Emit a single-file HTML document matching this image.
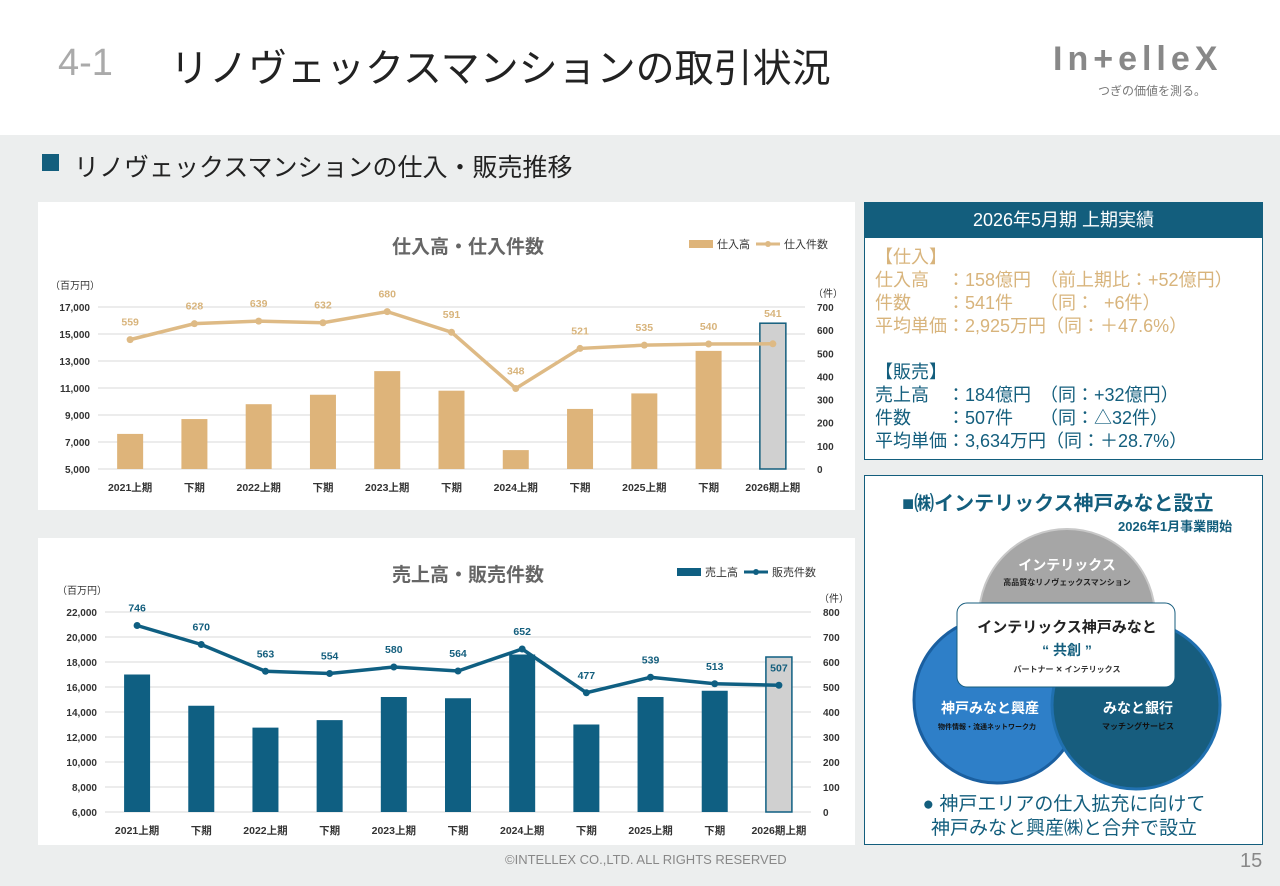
<!DOCTYPE html>
<html><head><meta charset="utf-8"><style>
body{margin:0;width:1280px;height:886px;background:#eceeee;font-family:"Liberation Sans","Noto Sans CJK JP",sans-serif;position:relative;overflow:hidden}
.abs{position:absolute}
#hdr{left:0;top:0;width:1280px;height:135px;background:#fff}
.panel{background:#fff}
.rt{font-size:18px;line-height:23px;white-space:pre}
</style></head><body>
<div id="hdr" class="abs"></div>
<div class="abs" style="left:58px;top:42px;font-size:38px;color:#aaa">4-1</div>
<div class="abs" style="left:170px;top:38px;font-size:39px;color:#222">リノヴェックスマンションの取引状況</div>
<div class="abs" style="left:1053px;top:40px;font-size:34px;font-weight:bold;color:#888;letter-spacing:5px">In+elleX</div>
<div class="abs" style="left:1098px;top:82px;font-size:12px;color:#777">つぎの価値を測る。</div>
<div class="abs" style="left:42px;top:154px;width:17px;height:17px;background:#135e7d"></div>
<div class="abs" style="left:74px;top:148px;font-size:25px;color:#222">リノヴェックスマンションの仕入・販売推移</div>

<div class="abs panel" style="left:38px;top:202px;width:817px;height:308px"></div>
<div class="abs panel" style="left:38px;top:538px;width:817px;height:307px"></div>
<svg id="ch" class="abs" style="left:0;top:0" width="1280" height="886" font-family="Liberation Sans, Noto Sans CJK JP, sans-serif"></svg>

<div class="abs" style="left:864px;top:202px;width:399px;height:258px;background:#fff;border:1px solid #135e7d;box-sizing:border-box"></div>
<div class="abs" style="left:864px;top:202px;width:399px;height:36px;background:#135e7d;color:#fff;font-size:18px;text-align:center;line-height:36px">2026年5月期 上期実績</div>
<div class="abs rt" style="left:875px;top:246px;color:#d8b47c">【仕入】
仕入高　：158億円　（前上期比：+52億円）
件数　　：541件　　（同：  +6件）
平均単価：2,925万円（同：＋47.6%）</div>
<div class="abs rt" style="left:875px;top:361px;color:#135e7d">【販売】
売上高　：184億円　（同：+32億円）
件数　　：507件　　（同：△32件）
平均単価：3,634万円（同：＋28.7%）</div>

<div class="abs" style="left:864px;top:475px;width:399px;height:370px;background:#fff;border:1px solid #135e7d;box-sizing:border-box"></div>
<div class="abs" style="left:902px;top:487px;font-size:20px;font-weight:bold;color:#135e7d">■㈱インテリックス神戸みなと設立</div>
<div class="abs" style="left:1118px;top:516px;font-size:13px;font-weight:bold;color:#135e7d">2026年1月事業開始</div>
<svg class="abs" style="left:864px;top:475px" width="399" height="370" font-family="Liberation Sans, Noto Sans CJK JP, sans-serif" font-weight="bold" text-anchor="middle">
<circle cx="203" cy="142" r="88" fill="#a6a6a6" stroke="#c8c8c8" stroke-width="2"/>
<circle cx="133" cy="225" r="83" fill="#2e7fc8" stroke="#1a5fa0" stroke-width="3"/>
<circle cx="272" cy="230" r="84" fill="#175d7e" stroke="#2070b0" stroke-width="3"/>
<text x="203" y="95" fill="#fff" font-size="14">インテリックス</text>
<text x="203" y="110" fill="#222" font-size="8">高品質なリノヴェックスマンション</text>
<rect x="93" y="128" width="218" height="84" rx="10" fill="#fff" stroke="#175d7e" stroke-width="1"/>
<text x="203" y="157" fill="#222" font-size="15">インテリックス神戸みなと</text>
<text x="203" y="180" fill="#135e7d" font-size="14">“ 共創 ”</text>
<text x="203" y="197" fill="#333" font-size="8">パートナー ✕ インテリックス</text>
<text x="126" y="238" fill="#fff" font-size="14">神戸みなと興産</text>
<text x="123" y="254" fill="#111" font-size="7">物件情報・流通ネットワーク力</text>
<text x="274" y="238" fill="#fff" font-size="14">みなと銀行</text>
<text x="274" y="254" fill="#111" font-size="8">マッチングサービス</text>
<text x="200" y="335" fill="#135e7d" font-size="19" font-weight="normal">● 神戸エリアの仕入拡充に向けて</text>
<text x="200" y="359" fill="#135e7d" font-size="19" font-weight="normal">神戸みなと興産㈱と合弁で設立</text>
</svg>
<div class="abs" style="left:505px;top:852px;font-size:13px;color:#888">©INTELLEX CO.,LTD. ALL RIGHTS RESERVED</div>
<div class="abs" style="left:1240px;top:850px;font-size:20px;color:#888">15</div>

<script>
const categories=["2021上期","下期","2022上期","下期","2023上期","下期","2024上期","下期","2025上期","下期","2026期上期"];
const purchaseAmount=[7600,8700,9800,10500,12250,10800,6400,9450,10600,13750,15800];
const purchaseCount=[559,628,639,632,680,591,348,521,535,540,541];
const purchaseLeftTicks=[5000,7000,9000,11000,13000,15000,17000];
const purchaseRightTicks=[0,100,200,300,400,500,600,700];
const salesAmount=[17000,14500,12750,13350,15200,15100,18600,13000,15200,15700,18400];
const salesCount=[746,670,563,554,580,564,652,477,539,513,507];
const salesLeftTicks=[6000,8000,10000,12000,14000,16000,18000,20000,22000];
const salesRightTicks=[0,100,200,300,400,500,600,700,800];

const svg=document.getElementById('ch');
const NS='http://www.w3.org/2000/svg';
function mk(tag,attrs,txt){const e=document.createElementNS(NS,tag);for(const k in attrs)e.setAttribute(k,attrs[k]);if(txt!==undefined)e.textContent=txt;svg.appendChild(e);return e;}

function chart(o){
  const n=categories.length;
  const step=(o.x1-o.x0)/n;
  const xc=i=>o.x0+step*(i+0.5);
  const yl=v=>o.yb-(v-o.lmin)/(o.lmax-o.lmin)*(o.yb-o.yt);
  const yr=v=>o.yb-(v-o.rmin)/(o.rmax-o.rmin)*(o.yb-o.yt);
  o.lt.forEach(t=>{
    const g=mk('line',{x1:o.x0,x2:o.x1,y1:yl(t),y2:yl(t),stroke:'#d9d9d9','stroke-width':1});
    
    
    const l=mk('text',{x:o.x0-8,y:yl(t)+4,'font-size':10,'font-weight':'bold','text-anchor':'end',fill:'#333'},t.toLocaleString('en-US'));
    
    
  });
  o.rt.forEach(t=>{
    const l=mk('text',{x:o.x1+12,y:yr(t)+4,'font-size':10,'font-weight':'bold',fill:'#333'},t);
    
    
  });
  o.bars.forEach((v,i)=>{
    const last=i===n-1;
    const b=mk('rect',{x:xc(i)-13,y:yl(v),width:26,height:o.yb-yl(v),fill:last?'#d0d0d0':o.color,stroke:last?o.lastStroke:'none','stroke-width':1.5});
    
    
    const c=mk('text',{x:xc(i),y:o.yb+22,'font-size':10.5,'font-weight':'bold','text-anchor':'middle',fill:'#333'},categories[i]);
    
    
  });
  const pts=o.line.map((v,i)=>xc(i)+','+yr(v)).join(' ');
  const pl=mk('polyline',{points:pts,fill:'none',stroke:o.lineColor,'stroke-width':3.5});
  
  
  o.line.forEach((v,i)=>{
    const p=mk('circle',{cx:xc(i),cy:yr(v),r:3.5,fill:o.lineColor});
    
    
    let ly=yr(v)-14;
    if(i===n-1&&o.lastAbove) ly=Math.min(ly,yl(o.bars[i])-6);
    const t=mk('text',{x:xc(i),y:ly,'font-size':10.5,'font-weight':'bold','text-anchor':'middle',fill:o.labelColor},v);
    
    
  });
  const ti=mk('text',{x:468,y:o.titleY,'font-size':19,'font-weight':'bold','text-anchor':'middle',fill:'#666'},o.title);
  
  
  const u1=mk('text',{x:o.x0-48,y:o.yt-18,'font-size':10,fill:'#333'},'（百万円）');
  
  
  const u2=mk('text',{x:o.x1+8,y:o.yt-10,'font-size':10,fill:'#333'},'（件）');
  
  
  const lg1=mk('rect',{x:o.legX,y:o.titleY-13,width:24,height:8,fill:o.color});
  
  
  const lt1=mk('text',{x:o.legX+28,y:o.titleY-5,'font-size':11,fill:'#333'},o.leg1);
  
  
  const lx=o.legX+28+o.leg1.length*11+6;
  const lg2=mk('line',{x1:lx,x2:lx+24,y1:o.titleY-9,y2:o.titleY-9,stroke:o.lineColor,'stroke-width':3});
  
  
  const lc=mk('circle',{cx:lx+12,cy:o.titleY-9,r:3,fill:o.lineColor});
  
  
  const lt2=mk('text',{x:lx+28,y:o.titleY-5,'font-size':11,fill:'#333'},o.leg2);
  
  
}
chart({x0:98,x1:805,yt:307,yb:469,lmin:5000,lmax:17000,rmin:0,rmax:700,lt:purchaseLeftTicks,rt:purchaseRightTicks,
  bars:purchaseAmount,line:purchaseCount,color:'#deb47a',lineColor:'#deba85',labelColor:'#d8b47c',lastStroke:'#135e7d',lastAbove:true,
  title:'仕入高・仕入件数',titleY:253,legX:689,leg1:'仕入高',leg2:'仕入件数'});
chart({x0:105,x1:811,yt:612,yb:812,lmin:6000,lmax:22000,rmin:0,rmax:800,lt:salesLeftTicks,rt:salesRightTicks,
  bars:salesAmount,line:salesCount,color:'#0f5f82',lineColor:'#0f5f82',labelColor:'#135e7d',lastStroke:'#0f5f82',lastAbove:false,
  title:'売上高・販売件数',titleY:581,legX:677,leg1:'売上高',leg2:'販売件数'});
</script>
</body></html>
